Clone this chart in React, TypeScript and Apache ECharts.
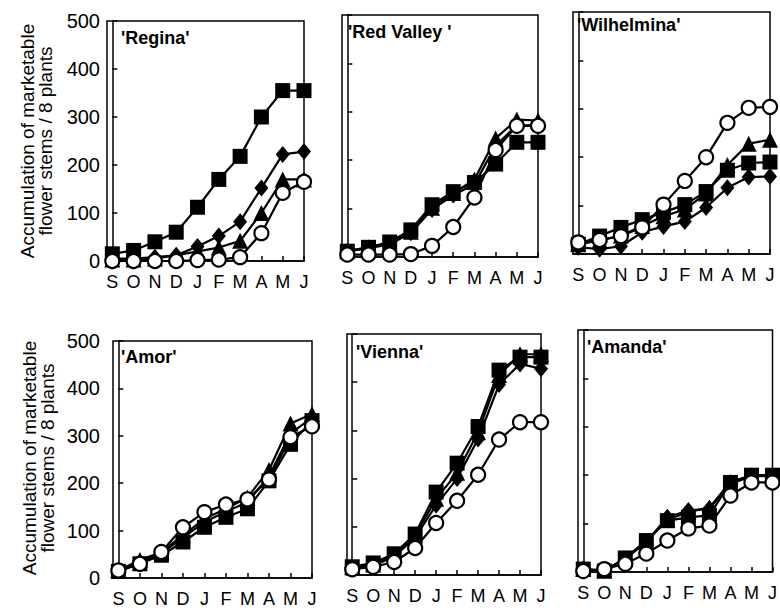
import React, { useEffect, useRef } from 'react';
import * as echarts from 'echarts';

// ---------- data ----------
const months = ['S', 'O', 'N', 'D', 'J', 'F', 'M', 'A', 'M', 'J'];
const cultivars = ["'Regina'", "'Red Valley '", "'Wilhelmina'", "'Amor'", "'Vienna'", "'Amanda'"];
const yAxisTitle = 'Accumulation of marketable\nflower stems / 8 plants';

const reginaSquare = [15, 22, 40, 60, 112, 170, 218, 300, 355, 355];
const reginaDiamond = [5, 5, 8, 12, 30, 52, 82, 152, 222, 228];
const reginaTriangle = [3, 3, 5, 12, 20, 28, 42, 100, 170, 170];
const reginaCircle = [0, 0, 0, 0, 2, 3, 8, 58, 142, 165];

const redValleySquare = [12, 20, 31, 56, 108, 135, 154, 192, 237, 237];
const redValleyDiamond = [12, 18, 26, 50, 98, 128, 150, 230, 272, 272];
const redValleyTriangle = [12, 20, 28, 52, 102, 132, 160, 245, 284, 282];
const redValleyCircle = [5, 5, 5, 6, 23, 62, 123, 221, 271, 271];

const wilhelminaSquare = [20, 37, 55, 71, 86, 102, 129, 173, 188, 190];
const wilhelminaDiamond = [14, 10, 16, 45, 57, 67, 96, 137, 159, 160];
const wilhelminaTriangle = [20, 28, 38, 58, 78, 92, 125, 184, 228, 236];
const wilhelminaCircle = [24, 29, 37, 55, 102, 151, 200, 271, 302, 304];

const amorSquare = [14, 30, 48, 76, 107, 128, 146, 205, 282, 332];
const amorDiamond = [15, 33, 52, 85, 118, 140, 160, 215, 305, 338];
const amorTriangle = [16, 38, 55, 90, 125, 146, 170, 228, 326, 346];
const amorCircle = [16, 30, 55, 107, 139, 155, 166, 208, 297, 320];

const viennaSquare = [17, 25, 44, 85, 172, 232, 308, 425, 452, 452];
const viennaDiamond = [15, 20, 38, 78, 145, 200, 282, 395, 438, 428];
const viennaTriangle = [16, 22, 40, 82, 158, 212, 296, 415, 458, 458];
const viennaCircle = [12, 17, 27, 56, 108, 154, 208, 281, 317, 317];

const amandaSquare = [6, 2, 29, 65, 106, 113, 117, 185, 200, 200];
const amandaDiamond = [6, 3, 27, 62, 113, 127, 131, 182, 198, 198];
const amandaTriangle = [6, 3, 27, 63, 108, 124, 133, 186, 200, 200];
const amandaCircle = [2, 6, 17, 38, 65, 90, 96, 158, 185, 185];

const squares = [reginaSquare, redValleySquare, wilhelminaSquare, amorSquare, viennaSquare, amandaSquare];
const diamonds = [reginaDiamond, redValleyDiamond, wilhelminaDiamond, amorDiamond, viennaDiamond, amandaDiamond];
const triangles = [reginaTriangle, redValleyTriangle, wilhelminaTriangle, amorTriangle, viennaTriangle, amandaTriangle];
const circles = [reginaCircle, redValleyCircle, wilhelminaCircle, amorCircle, viennaCircle, amandaCircle];

// ---------- layout ----------
const boxes = [
  { l: 107, r: 304, t: 21, b: 261, tx: 121, ty: 29, showY: true, lm: 7 },
  { l: 342, r: 538, t: 15, b: 257, tx: 348, ty: 23, showY: false, lm: 7 },
  { l: 573, r: 770, t: 12, b: 254, tx: 577, ty: 16, showY: false, lm: 7 },
  { l: 113, r: 312, t: 341, b: 578, tx: 121, ty: 348, showY: true, lm: 13 },
  { l: 347, r: 541, t: 334, b: 575, tx: 356, ty: 343, showY: false, lm: 7 },
  { l: 578, r: 779, t: 330, b: 572, tx: 587, ty: 338, showY: false, lm: 7 },
];
const FONT = "'Liberation Sans', Arial, Helvetica, sans-serif";

export default function App() {
  const ref = useRef<HTMLDivElement>(null);
  useEffect(() => {
    if (!ref.current) return;
    const chart = echarts.init(ref.current, null, { renderer: 'svg' });
    const idx = months.map((_, i) => i);
    const grid: any[] = [];
    const xAxis: any[] = [];
    const yAxis: any[] = [];
    const series: any[] = [];
    const graphic: any[] = [];

    boxes.forEach((b, p) => {
      grid.push({
        left: b.l, top: b.t, width: b.r - b.l, height: b.b - b.t,
        show: true, borderColor: '#000', borderWidth: 1.5, backgroundColor: 'transparent',
      });
      xAxis.push({
        type: 'value', gridIndex: p, min: -0.25, max: months.length - 1,
        axisLine: { show: true, lineStyle: { color: '#000', width: 1.5 } },
        axisTick: { show: true, inside: true, length: 5, customValues: idx, lineStyle: { color: '#000', width: 1.5 } },
        axisLabel: {
          show: true, customValues: idx, margin: 12, color: '#000', fontSize: 18, fontFamily: FONT,
          formatter: (v: number) => months[Math.round(v)] ?? '',
        },
        splitLine: { show: false },
      });
      yAxis.push({
        type: 'value', gridIndex: p, min: 0, max: 500, interval: 100,
        axisLine: { show: true, lineStyle: { color: '#000', width: 1.5 } },
        axisTick: { show: true, inside: true, length: 5, lineStyle: { color: '#000', width: 1.5 } },
        axisLabel: { show: b.showY, margin: b.lm, color: '#000', fontSize: 20, fontFamily: FONT },
        splitLine: { show: false },
      });
      const mk = (data: number[], symbol: string, size: any, filled: boolean, z: number) => ({
        type: 'line', xAxisIndex: p, yAxisIndex: p, clip: false, z,
        data: data.map((v, i) => [i, v]),
        symbol, symbolSize: size, showSymbol: true,
        lineStyle: { color: '#000', width: 2.2 },
        itemStyle: filled
          ? { color: '#000', borderColor: '#000', borderWidth: 0 }
          : { color: '#fff', borderColor: '#000', borderWidth: 2.2 },
        emphasis: { disabled: true },
      });
      series.push(mk(squares[p], 'rect', 15, true, 2));
      series.push(mk(diamonds[p], 'diamond', [14, 17], true, 3));
      series.push(mk(triangles[p], 'triangle', 16, true, 4));
      series.push(mk(circles[p], 'circle', 14, false, 5));
      graphic.push({
        type: 'text', x: b.tx, y: b.ty, z: 10,
        style: { text: cultivars[p], fill: '#000', fontSize: 18, fontWeight: 'bold', fontFamily: FONT, textAlign: 'left', textVerticalAlign: 'top' },
      });
    });

    [141, 458].forEach((cy, k) => {
      graphic.push({
        type: 'text', x: k === 0 ? 36 : 38, y: cy, rotation: Math.PI / 2, z: 10,
        style: {
          text: yAxisTitle, fill: '#000', fontSize: 19, lineHeight: 18, fontFamily: FONT,
          textAlign: 'center', textVerticalAlign: 'middle',
        },
      });
    });

    chart.setOption({
      animation: false,
      backgroundColor: '#fff',
      grid, xAxis, yAxis, series, graphic,
    });
    return () => chart.dispose();
  }, []);
  return <div ref={ref} style={{ position: 'fixed', left: 0, top: 0, width: 780, height: 611 }} />;
}
